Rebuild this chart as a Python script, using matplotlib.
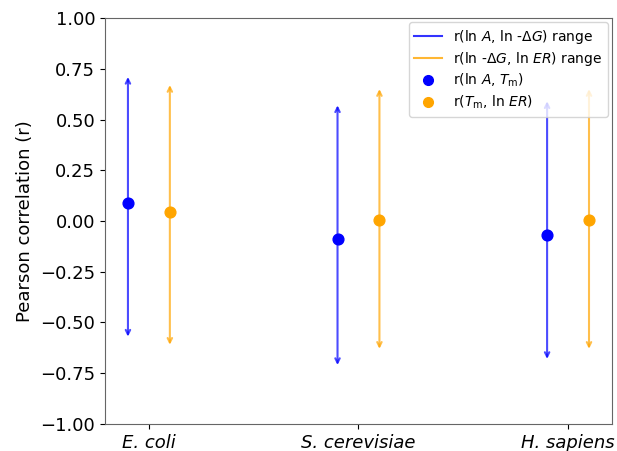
import matplotlib
matplotlib.use("Agg")
import matplotlib.pyplot as plt
from matplotlib.lines import Line2D
import numpy as np

# organisms on the x axis
species = ['E. coli', 'S. cerevisiae', 'H. sapiens']

# r(ln A, T_m) point and r(ln A, ln -dG) range
r_a_tm = [0.09, -0.09, -0.07]
a_dg_lo = [-0.57, -0.71, -0.68]
a_dg_hi = [0.71, 0.57, 0.59]

# r(T_m, ln ER) point and r(ln -dG, ln ER) range
r_tm_er = [0.045, 0.005, 0.005]
dg_er_lo = [-0.61, -0.63, -0.63]
dg_er_hi = [0.67, 0.65, 0.65]

offset = 0.1
x = np.arange(len(species))

fig = plt.figure(figsize=(6.17, 4.51), dpi=100)
ax = fig.add_axes([0.170, 0.060, 0.822, 0.900])

for i in x:
    ax.annotate('', xy=(i - offset, a_dg_lo[i]), xytext=(i - offset, a_dg_hi[i]),
                arrowprops=dict(arrowstyle='<->', color='blue', alpha=0.7, lw=1.5,
                                shrinkA=0, shrinkB=0, mutation_scale=8))
    ax.annotate('', xy=(i + offset, dg_er_lo[i]), xytext=(i + offset, dg_er_hi[i]),
                arrowprops=dict(arrowstyle='<->', color='orange', alpha=0.7, lw=1.5,
                                shrinkA=0, shrinkB=0, mutation_scale=8))

ax.scatter(x - offset, r_a_tm, color='blue', s=60, zorder=3)
ax.scatter(x + offset, r_tm_er, color='orange', s=60, zorder=3)

ax.set_xlim(-0.21, 2.21)
ax.set_ylim(-1, 1)
ax.set_yticks(np.arange(-1, 1.01, 0.25))
ax.set_xticks(x)
ax.set_xticklabels(species, fontsize=13, style='italic')
ax.tick_params(axis='y', labelsize=13)
ax.set_ylabel('Pearson correlation (r)', fontsize=13)
for s in ax.spines.values():
    s.set_color('#666666')

handles = [
    Line2D([], [], color='blue', lw=1.5, alpha=0.8),
    Line2D([], [], color='orange', lw=1.5, alpha=0.8),
    Line2D([], [], color='blue', marker='o', ls='', ms=7),
    Line2D([], [], color='orange', marker='o', ls='', ms=7),
]
labels = [
    r'r(ln $A$, ln -$\Delta G$) range',
    r'r(ln -$\Delta G$, ln $ER$) range',
    r'r(ln $A$, $T_\mathrm{m}$)',
    r'r($T_\mathrm{m}$, ln $ER$)',
]
ax.legend(handles, labels, loc='upper right', fontsize=10, labelspacing=0.3,
          borderaxespad=0.3)

fig.savefig('out.png', dpi=100)
